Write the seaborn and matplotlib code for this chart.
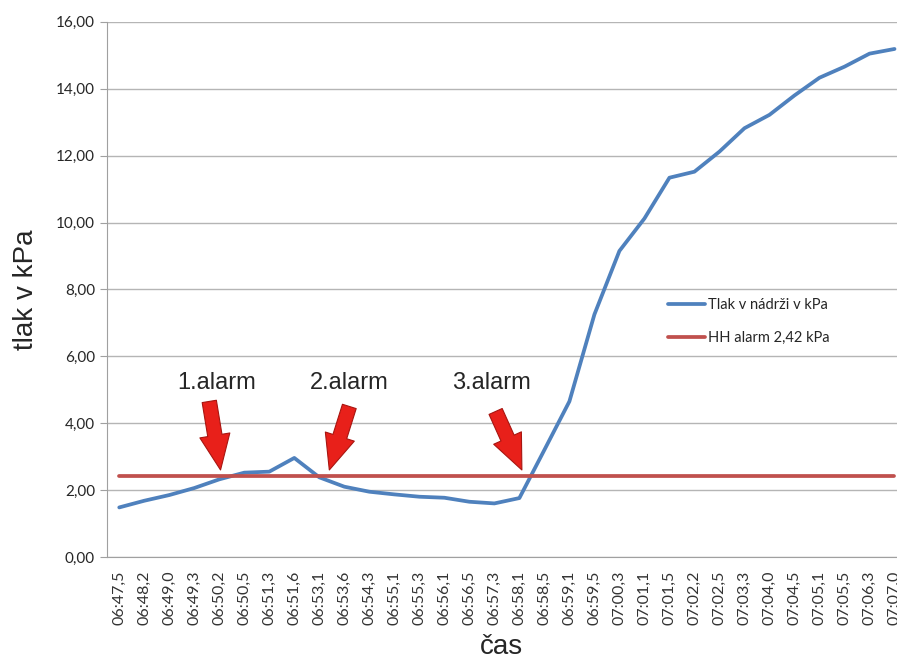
import matplotlib
matplotlib.use("Agg")
import matplotlib.pyplot as plt
import seaborn as sns
import pandas as pd

# casy merani (kategorie na ose x)
casy = ["06:47,5", "06:48,2", "06:49,0", "06:49,3", "06:50,2", "06:50,5", "06:51,3", "06:51,6",
        "06:53,1", "06:53,6", "06:54,3", "06:55,1", "06:55,3", "06:56,1", "06:56,5", "06:57,3",
        "06:58,1", "06:58,5", "06:59,1", "06:59,5", "07:00,3", "07:01,1", "07:01,5", "07:02,2",
        "07:02,5", "07:03,3", "07:04,0", "07:04,5", "07:05,1", "07:05,5", "07:06,3", "07:07,0"]

# tlak v nadrzi v kPa
tlak = [1.48, 1.68, 1.85, 2.06, 2.32, 2.52, 2.55, 2.96, 2.38, 2.10, 1.95, 1.87, 1.80, 1.77,
        1.65, 1.60, 1.76, 3.20, 4.65, 7.25, 9.15, 10.12, 11.34, 11.52, 12.12, 12.82, 13.22,
        13.80, 14.33, 14.66, 15.05, 15.19]

alarm = 2.42
alarm_labels = ["1.alarm", "2.alarm", "3.alarm"]
# hrot a konec sipky (pozice kategorie, kPa), pozice popisku
sipky_hrot = [(4.05, 2.6), (8.4, 2.6), (16.1, 2.6)]
sipky_konec = [(3.6, 4.65), (9.2, 4.5), (15.05, 4.35)]
popisky_x = [3.9, 9.2, 14.9]

df = pd.DataFrame({"cas": casy, "tlak": tlak, "hh": [alarm] * len(casy)})

sns.set_style("white")
plt.rcParams["font.family"] = ["Lato", "DejaVu Sans"]

fig = plt.figure(figsize=(8.97, 6.63), dpi=100)
ax = fig.add_axes([0.119, 0.16, 0.881, 0.807])

sns.lineplot(data=df, x="cas", y="tlak", ax=ax, color="#4F81BD", lw=2.7,
             label="Tlak v nádrži v kPa", sort=False)
sns.lineplot(data=df, x="cas", y="hh", ax=ax, color="#C0504D", lw=2.7,
             label="HH alarm 2,42 kPa", sort=False)

ax.set_yticks(range(0, 17, 2))
ax.set_yticklabels([f"{v:.2f}".replace(".", ",") for v in range(0, 17, 2)], fontsize=11)
ax.set_xticks(range(len(casy)))
ax.set_xticklabels(casy, rotation=90, fontsize=11.5, color="#333333")
ax.set_xticks([i - 0.5 for i in range(len(casy) + 1)], minor=True)
ax.set_ylim(0, 16)
ax.set_xlim(-0.5, 31.1)
ax.tick_params(axis="x", which="major", length=0, pad=10)
ax.tick_params(axis="x", which="minor", length=5, color="#a0a0a0", direction="out")
ax.tick_params(axis="y", length=5, color="#a0a0a0", direction="out", left=True)

ax.grid(axis="y", color="#b5b5b5", lw=1)
ax.set_axisbelow(True)
for s in ["top", "right"]:
    ax.spines[s].set_visible(False)
for s in ["left", "bottom"]:
    ax.spines[s].set_color("#a0a0a0")

ax.set_ylabel("tlak v kPa", fontsize=20, family="Liberation Sans", labelpad=12)
ax.set_xlabel("čas", fontsize=20, family="Liberation Sans", labelpad=6)

# sipky alarmu
for hrot, konec in zip(sipky_hrot, sipky_konec):
    ax.annotate("", xy=hrot, xytext=konec,
                arrowprops=dict(arrowstyle="simple,head_width=0.78,head_length=0.9,tail_width=0.37",
                                fc="#E8201A", ec="#A81510", lw=0.8, mutation_scale=28,
                                shrinkA=0, shrinkB=0))
for lab, px in zip(alarm_labels, popisky_x):
    ax.text(px, 5.2, lab, ha="center", va="center", fontsize=17, family="Liberation Sans")

ax.legend(loc="center left", bbox_to_anchor=(0.693, 0.44), frameon=False, fontsize=10.5,
          handlelength=2.6, handletextpad=0.2, labelspacing=1.35)

fig.savefig("out.png", dpi=100)
